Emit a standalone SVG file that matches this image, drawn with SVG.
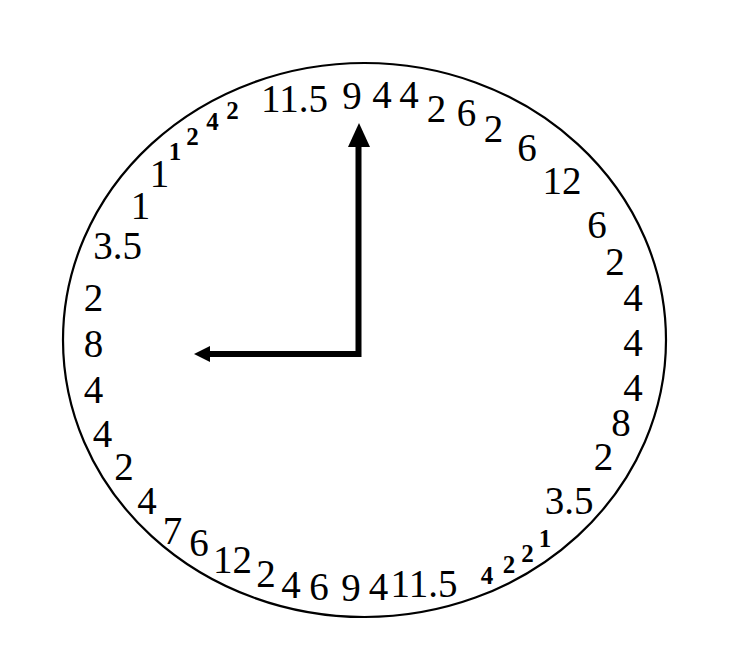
<svg xmlns="http://www.w3.org/2000/svg" width="751" height="670" viewBox="0 0 751 670">
<style>
text{font-family:"Liberation Serif","Times New Roman",serif;fill:#000;text-anchor:middle}
.l{font-size:39px}
.s{font-size:25px;font-weight:bold}
</style>
<rect width="751" height="670" fill="#fff"/>
<g id="face">
<ellipse cx="364.5" cy="340" rx="301.5" ry="277" fill="none" stroke="#000" stroke-width="2.2"/>
</g>
<g id="hands">
<path d="M358.5,142 V354 H207" fill="none" stroke="#000" stroke-width="6" stroke-linejoin="miter"/>
<polygon points="359,123 348,147 370,147" fill="#000"/>
<polygon points="194,354 210,346 210,362" fill="#000"/>
</g>
<g id="labels">
<text class="l" x="294.5" y="112">11.5</text>
<text class="l" x="352" y="109">9</text>
<text class="l" x="382" y="108">4</text>
<text class="l" x="409" y="108">4</text>
<text class="l" x="436.5" y="122">2</text>
<text class="l" x="466.5" y="126">6</text>
<text class="l" x="493.5" y="142">2</text>
<text class="l" x="527" y="161">6</text>
<text class="l" x="562" y="194">12</text>
<text class="l" x="597" y="238">6</text>
<text class="l" x="615" y="275">2</text>
<text class="l" x="633" y="311">4</text>
<text class="l" x="633" y="356">4</text>
<text class="l" x="633" y="401">4</text>
<text class="l" x="621" y="436">8</text>
<text class="l" x="603.5" y="470">2</text>
<text class="l" x="569" y="514">3.5</text>
<text class="s" x="545" y="547">1</text>
<text class="s" x="527.5" y="562">2</text>
<text class="s" x="509" y="573">2</text>
<text class="s" x="487" y="584">4</text>
<text class="l" x="424" y="597">11.5</text>
<text class="l" x="378.5" y="600">4</text>
<text class="l" x="351" y="601">9</text>
<text class="l" x="319" y="600">6</text>
<text class="l" x="291" y="598">4</text>
<text class="l" x="266" y="587">2</text>
<text class="l" x="232.5" y="573">12</text>
<text class="l" x="199" y="556">6</text>
<text class="l" x="172.5" y="544">7</text>
<text class="l" x="147" y="514">4</text>
<text class="l" x="124" y="480">2</text>
<text class="l" x="102.5" y="447">4</text>
<text class="l" x="93.5" y="403">4</text>
<text class="l" x="93.5" y="357">8</text>
<text class="l" x="93.5" y="311">2</text>
<text class="l" x="117.5" y="259">3.5</text>
<text class="l" x="140.5" y="219">1</text>
<text class="l" x="159.5" y="187">1</text>
<text class="s" x="175" y="160">1</text>
<text class="s" x="192.5" y="145">2</text>
<text class="s" x="212.5" y="130">4</text>
<text class="s" x="232.5" y="119">2</text>
</g>
</svg>
